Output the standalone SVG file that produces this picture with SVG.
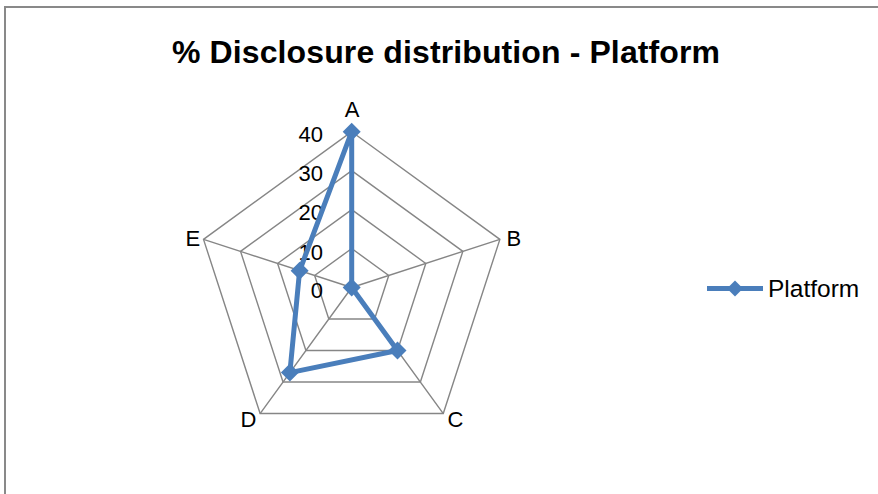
<svg xmlns="http://www.w3.org/2000/svg" width="878" height="494" viewBox="0 0 878 494">
  <style>
    .grid { fill: none; stroke: #868686; stroke-width: 1.4; }
    .series { fill: none; stroke: #4A7EBB; stroke-width: 5; stroke-linejoin: round; }
    .lbl { font-family: "Liberation Sans", Arial, sans-serif; font-size: 22px; fill: #000; }
    .title { font-family: "Liberation Sans", Arial, sans-serif; font-size: 32px; font-weight: bold; fill: #000; }
  </style>
  <defs>
    <marker id="dia" markerUnits="userSpaceOnUse" markerWidth="20" markerHeight="20" refX="10" refY="10" orient="0" viewBox="0 0 20 20">
      <path d="M10 1 L19 10 L10 19 L1 10 Z" fill="#4A7EBB"/>
    </marker>
  </defs>
  <rect x="0" y="0" width="878" height="494" fill="#ffffff"/>
  <rect id="frame" x="5" y="7" width="880" height="500" fill="none" stroke="#898989" stroke-width="2"/>
  <text id="title" class="title" x="446" y="63" text-anchor="middle" textLength="548">% Disclosure distribution - Platform</text>

  <g id="grid">
    <polygon class="grid" points="351.7,131.7 499.88,239.36 443.28,413.54 260.12,413.54 203.52,239.36"/>
    <polygon class="grid" points="351.7,170.65 462.84,251.39 420.38,382.03 283.02,382.03 240.56,251.39"/>
    <polygon class="grid" points="351.7,209.6 425.79,263.43 397.49,350.52 305.91,350.52 277.61,263.43"/>
    <polygon class="grid" points="351.7,248.55 388.75,275.46 374.59,319.01 328.81,319.01 314.65,275.46"/>
    <path class="grid" d="M351.7 287.5 L351.7 131.7 M351.7 287.5 L499.88 239.36 M351.7 287.5 L443.28 413.54 M351.7 287.5 L260.12 413.54 M351.7 287.5 L203.52 239.36"/>
  </g>

  <g id="ticks" class="lbl" text-anchor="end">
    <text x="323" y="141.7">40</text>
    <text x="323" y="181">30</text>
    <text x="323" y="220.3">20</text>
    <text x="323" y="259.5">10</text>
    <text x="323" y="298">0</text>
  </g>

  <g id="axis-A"><text class="lbl" x="352" y="116.7" text-anchor="middle">A</text></g>
  <g id="axis-B"><text class="lbl" x="506.5" y="245.7">B</text></g>
  <g id="axis-C"><text class="lbl" x="447.5" y="427.3">C</text></g>
  <g id="axis-D"><text class="lbl" x="240.5" y="427.3">D</text></g>
  <g id="axis-E"><text class="lbl" x="185.5" y="245.7">E</text></g>

  <g id="connectors">
    <path id="series-Platform" class="series" d="M351.7 131.7 L351.7 287.5 L397.49 350.52 L289.88 372.58 L299.6 270.8 Z" marker-start="url(#dia)" marker-mid="url(#dia)"/>
  </g>

  <g id="legend">
    <line x1="707" y1="288.5" x2="763" y2="288.5" stroke="#4A7EBB" stroke-width="5"/>
    <path d="M735 280.5 L743 288.5 L735 296.5 L727 288.5 Z" fill="#4A7EBB"/>
    <text class="lbl" x="768" y="296.5" style="font-size:24.5px">Platform</text>
  </g>
</svg>
